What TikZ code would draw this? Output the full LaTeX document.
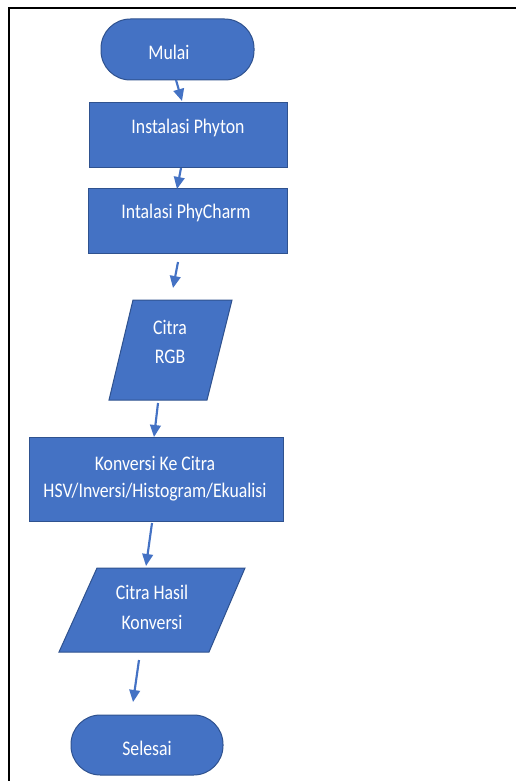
\documentclass[tikz,border=0pt]{standalone}
\usepackage{graphicx}
\usepackage{fontspec}
\setmainfont{Carlito}
\usetikzlibrary{arrows.meta}
\definecolor{boxfill}{HTML}{4472C4}
\definecolor{boxline}{HTML}{2F528F}
\newcommand{\tallt}[1]{\scalebox{1}[1.17]{#1}}
\tikzset{
  shapebox/.style={draw=boxline, fill=boxfill, line width=0.75pt, inner sep=0pt},
  termbox/.style={shapebox, rounded corners=22pt},
  lbl/.style={text=white, font=\fontsize{13.3}{15}\selectfont, inner sep=0pt, anchor=center},
  flow/.style={draw=boxfill, line width=1.6pt, -{Triangle[length=9pt,width=8pt]}},
}
\begin{document}
\begin{tikzpicture}[x=0.75pt,y=-0.75pt]
\useasboundingbox (0,0) rectangle (516,781);
\draw[line width=1.6pt] (9,781) -- (9,8) -- (516,8);
% shapes
\node[termbox, minimum width=114.75pt, minimum height=45.75pt] (mulai) at (177.5,49.5) {};
\node[shapebox, minimum width=148.5pt, minimum height=48.75pt] (phyton) at (188,135.5) {};
\node[shapebox, minimum width=149.25pt, minimum height=48.75pt] (pycharm) at (187.5,220.5) {};
\filldraw[draw=boxline, fill=boxfill, line width=0.75pt] (133,300) -- (232,300) -- (207,400) -- (109,400) -- cycle;
\node[shapebox, minimum width=190.5pt, minimum height=63pt] (konversi) at (156,479) {};
\filldraw[draw=boxline, fill=boxfill, line width=0.75pt] (97,568) -- (245,568) -- (209,652) -- (59,652) -- cycle;
\node[termbox, minimum width=114pt, minimum height=45pt] (selesai) at (147,745) {};
% texts
\node[lbl] (tmulai) at (169,52) {\tallt{Mulai}};
\node[lbl] (tphyton) at (188,128) {\tallt{Instalasi Phyton}};
\node[lbl] (tpycharm) at (186,213) {\tallt{Intalasi PhyCharm}};
\node[lbl] (trgb1) at (170,327) {\tallt{Citra}};
\node[lbl] (trgb2) at (170,357) {\tallt{RGB}};
\node[lbl] (tkon1) at (155,463) {\tallt{Konversi Ke Citra}};
\node[lbl] (tkon2) at (155,492) {\tallt{HSV/Inversi/Histogram/Ekualisi}};
\node[lbl] (thas1) at (152,592) {\tallt{Citra Hasil}};
\node[lbl] (thas2) at (152,622) {\tallt{Konversi}};
\node[lbl] (tsel) at (147,748) {\tallt{Selesai}};
% arrow coordinates
\coordinate (a1s) at (176,80);  \coordinate (a1e) at (182,101);
\coordinate (a2s) at (181,168); \coordinate (a2e) at (177,189);
\coordinate (a3s) at (178,262); \coordinate (a3e) at (173,288);
\coordinate (a4s) at (158,403); \coordinate (a4e) at (154,437);
\coordinate (a5s) at (152,523); \coordinate (a5e) at (146,566);
\coordinate (a6s) at (139,660); \coordinate (a6e) at (133,702);
\draw[flow] (a1s) -- (a1e);
\draw[flow] (a2s) -- (a2e);
\draw[flow] (a3s) -- (a3e);
\draw[flow] (a4s) -- (a4e);
\draw[flow] (a5s) -- (a5e);
\draw[flow] (a6s) -- (a6e);
\end{tikzpicture}
\end{document}
